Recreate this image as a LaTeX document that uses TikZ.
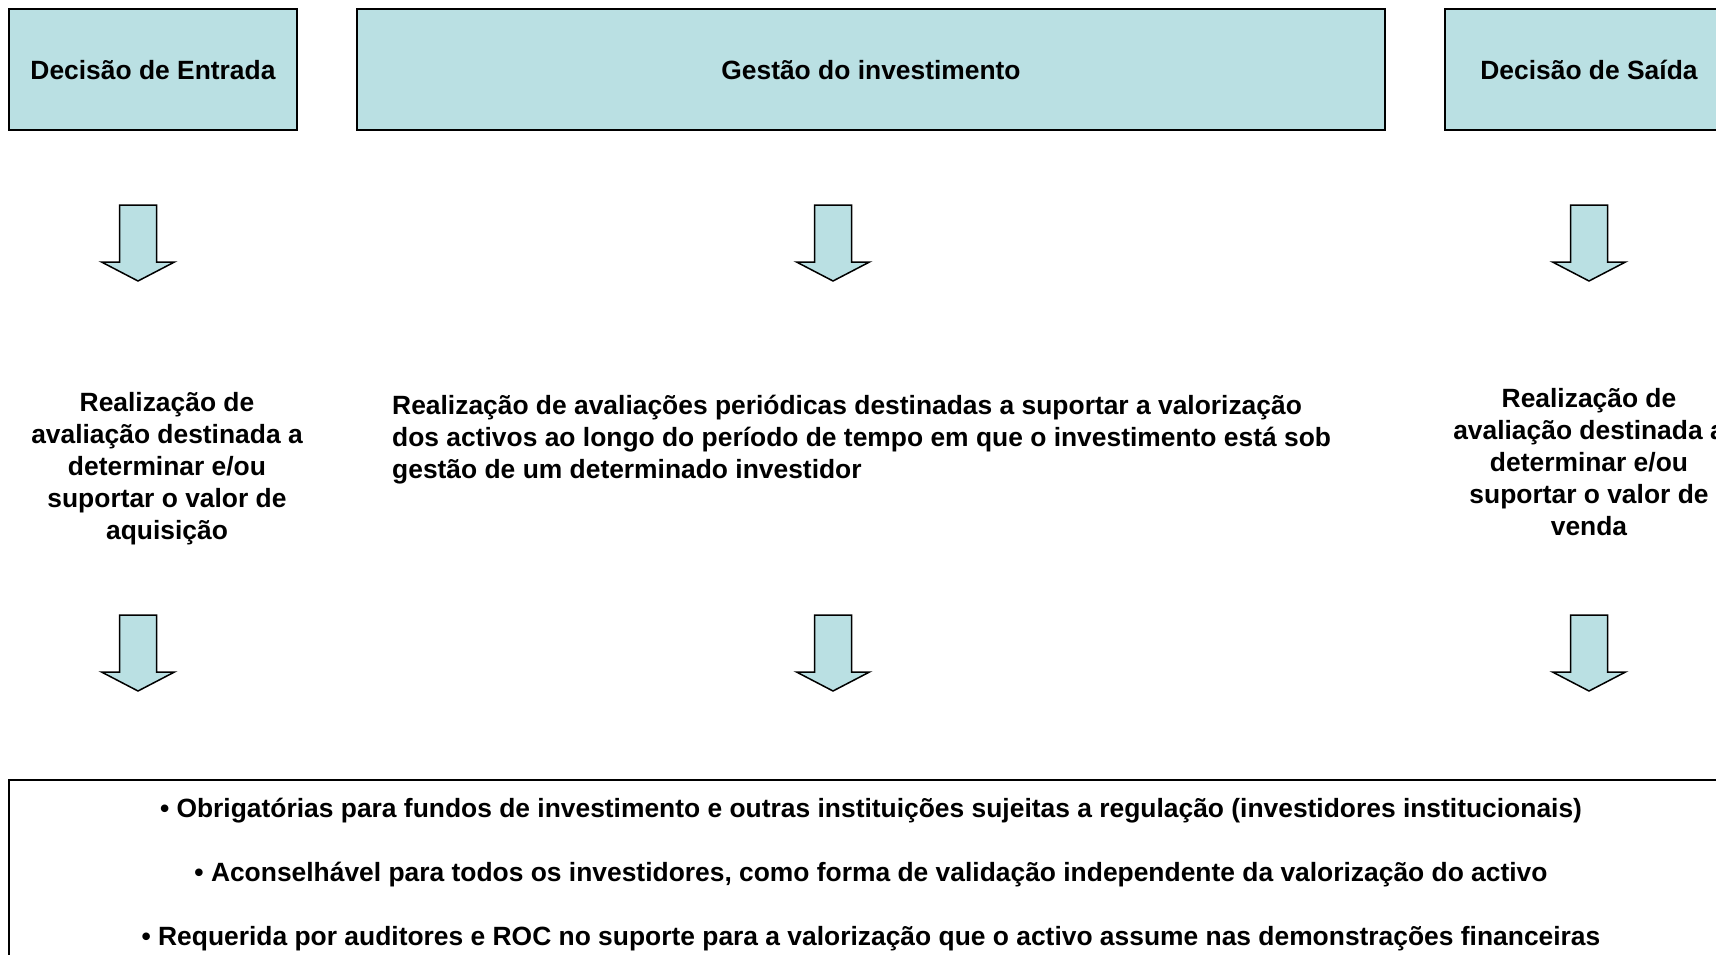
\documentclass[tikz,border=0pt]{standalone}
\usepackage{fontspec}
\setmainfont{Liberation Sans}
\definecolor{boxfill}{RGB}{186,224,227}
\begin{document}
\begin{tikzpicture}[x=1pt,y=-1pt,
  headbox/.style={draw=black,line width=2pt,fill=boxfill},
  txt/.style={font=\bfseries\fontsize{26.4}{32}\selectfont,inner sep=0pt},
  arrowshape/.style={draw=black,line width=1.5pt,fill=boxfill,line join=miter},
  blockarrow/.pic={\path[arrowshape] (-18.5,0) -- (18.5,0) -- (18.5,57) -- (36.5,57) -- (0,76) -- (-36.5,57) -- (-18.5,57) -- cycle;}
]
\useasboundingbox (0,0) rectangle (1716,955);
\clip (0,0) rectangle (1716,955);
% header boxes
\path[headbox] (9,9) rectangle (297,130);
\path[headbox] (357,9) rectangle (1385,130);
\path[headbox] (1445,9) rectangle (1733,130);
\node[txt] (h1) at (153,70) {Decisão de Entrada};
\node[txt] (h2) at (871,70) {Gestão do investimento};
\node[txt] (h3) at (1589,70) {Decisão de Saída};
% arrows row 1
\pic at (138,205) {blockarrow};
\pic at (833,205) {blockarrow};
\pic at (1589,205) {blockarrow};
% middle texts
\node[txt,align=center] (t1) at (167,468.5) {Realização de\\avaliação destinada a\\determinar e/ou\\suportar o valor de\\aquisição};
\node[txt,align=left,anchor=west] (t2) at (392,439.5) {Realização de avaliações periódicas destinadas a suportar a valorização\\dos activos ao longo do período de tempo em que o investimento está sob\\gestão de um determinado investidor};
\node[txt,align=center] (t3) at (1589,462.5) {Realização de\\avaliação destinada a\\determinar e/ou\\suportar o valor de\\venda};
% arrows row 2
\pic at (138,615) {blockarrow};
\pic at (833,615) {blockarrow};
\pic at (1589,615) {blockarrow};
% bottom box
\draw[line width=2pt] (9,780) rectangle (1733,1000);
\node[txt] (b1) at (871,810.5) {• Obrigatórias para fundos de investimento e outras instituições sujeitas a regulação (investidores institucionais)};
\node[txt] (b2) at (871,874.5) {• Aconselhável para todos os investidores, como forma de validação independente da valorização do activo};
\node[txt] (b3) at (871,938.5) {• Requerida por auditores e ROC no suporte para a valorização que o activo assume nas demonstrações financeiras};
\end{tikzpicture}
\end{document}
